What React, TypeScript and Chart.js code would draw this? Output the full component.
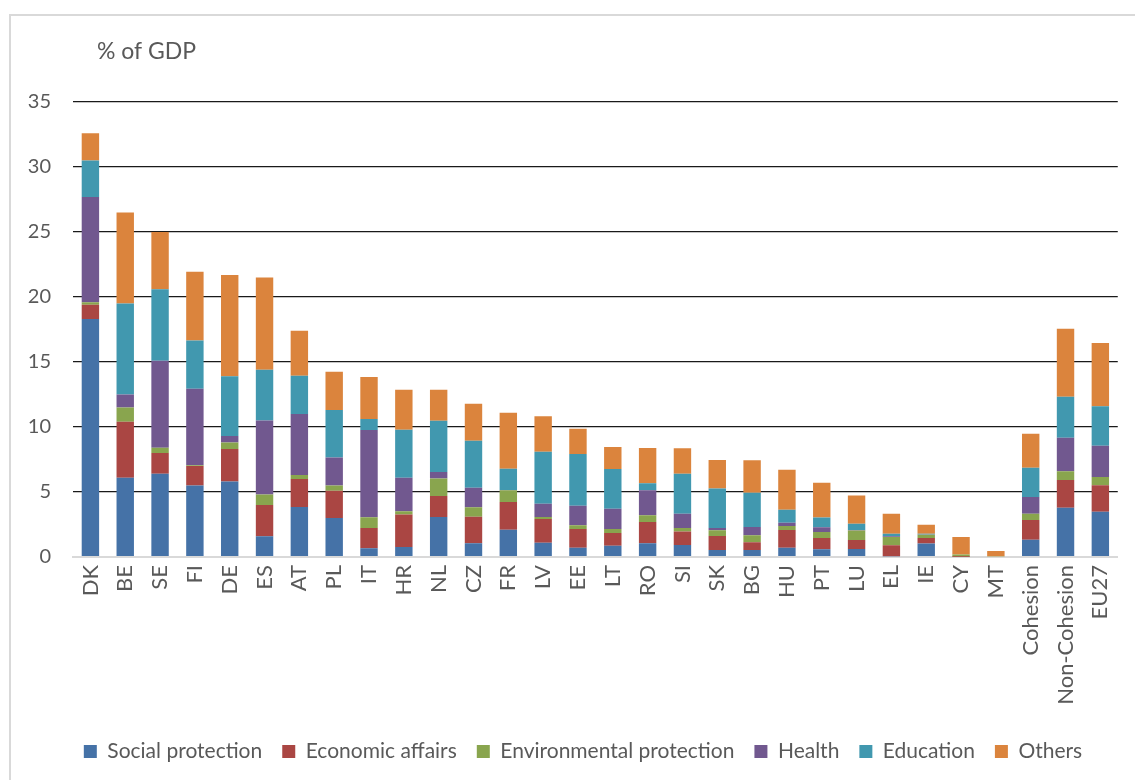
import React, { useEffect, useRef } from "react";
import { Chart, registerables } from "chart.js";

Chart.register(...registerables);

// Government expenditure by function, % of GDP
const categories = [
  "DK", "BE", "SE", "FI", "DE", "ES", "AT", "PL", "IT", "HR",
  "NL", "CZ", "FR", "LV", "EE", "LT", "RO", "SI", "SK", "BG",
  "HU", "PT", "LU", "EL", "IE", "CY", "MT", "Cohesion", "Non-Cohesion", "EU27",
];

const socialProtection = [
  18.3, 6.1, 6.4, 5.5, 5.8, 1.6, 3.85, 3.0, 0.67, 0.77,
  3.08, 1.05, 2.1, 1.1, 0.72, 0.87, 1.05, 0.92, 0.54, 0.54,
  0.72, 0.59, 0.62, 0.05, 1.03, 0, 0, 1.33, 3.79, 3.49,
];
const economicAffairs = [
  1.1, 4.3, 1.6, 1.5, 2.5, 2.4, 2.15, 2.1, 1.56, 2.49,
  1.61, 2.05, 2.13, 1.82, 1.43, 0.98, 1.64, 1.05, 1.08, 0.59,
  1.36, 0.87, 0.69, 0.85, 0.43, 0.02, 0, 1.52, 2.13, 2.02,
];
const environmentalProtection = [
  0.2, 1.1, 0.4, 0.05, 0.5, 0.8, 0.3, 0.4, 0.82, 0.25,
  1.34, 0.72, 0.9, 0.16, 0.29, 0.3, 0.52, 0.26, 0.43, 0.54,
  0.3, 0.46, 0.72, 0.64, 0.26, 0.18, 0.05, 0.48, 0.67, 0.64,
];
const health = [
  8.1, 1.0, 6.7, 5.9, 0.5, 5.7, 4.7, 2.15, 6.72, 2.59,
  0.51, 1.51, 0.02, 1.02, 1.51, 1.57, 1.92, 1.1, 0.18, 0.64,
  0.26, 0.36, 0.05, 0.05, 0.02, 0, 0, 1.29, 2.59, 2.41,
];
const education = [
  2.8, 7.0, 5.5, 3.7, 4.6, 3.9, 2.95, 3.65, 0.85, 3.69,
  3.95, 3.62, 1.64, 4.0, 3.97, 3.05, 0.54, 3.08, 3.03, 2.64,
  1.0, 0.75, 0.48, 0.2, 0.05, 0, 0, 2.25, 3.15, 3.03,
];
const others = [
  2.1, 7.0, 4.4, 5.3, 7.8, 7.1, 3.45, 2.95, 3.23, 3.08,
  2.38, 2.84, 4.31, 2.72, 1.95, 1.69, 2.71, 1.95, 2.2, 2.49,
  3.08, 2.69, 2.18, 1.54, 0.7, 1.34, 0.41, 2.62, 5.23, 4.87,
];

const seriesNames = [
  "Social protection",
  "Economic affairs",
  "Environmental protection",
  "Health",
  "Education",
  "Others",
];
const seriesColors = ["#4572A7", "#AA4643", "#89A54E", "#71588F", "#4198AF", "#DB843D"];

const FONT = "Lato, 'Open Sans', sans-serif";
const TEXT = "#595959";

// Unit label above the value axis
const unitLabel = {
  id: "unitLabel",
  afterDraw(chart: Chart) {
    const { ctx, chartArea } = chart;
    ctx.save();
    ctx.font = `23px ${FONT}`;
    ctx.fillStyle = TEXT;
    ctx.textAlign = "left";
    ctx.textBaseline = "middle";
    ctx.fillText("% of GDP", chartArea.left + 24, chartArea.top - 50);
    ctx.restore();
  },
};

// Centre the legend row under the plot area rather than the whole canvas
const legendOffset = {
  id: "legendOffset",
  afterLayout(chart: any) {
    const legend = chart.legend;
    if (!legend) return;
    const shift = 23;
    legend.left += shift;
    legend.right += shift;
  },
};

export default function App() {
  const canvasRef = useRef<HTMLCanvasElement | null>(null);

  useEffect(() => {
    document.body.style.margin = "0";
    const canvas = canvasRef.current;
    if (!canvas) return;
    const values = [
      socialProtection,
      economicAffairs,
      environmentalProtection,
      health,
      education,
      others,
    ];
    const chart = new Chart(canvas, {
      type: "bar",
      data: {
        labels: categories,
        datasets: values.map((data, i) => ({
          label: seriesNames[i],
          data,
          backgroundColor: seriesColors[i],
          borderWidth: 0,
          barPercentage: 0.5,
          categoryPercentage: 1,
        })),
      },
      options: {
        animation: false,
        responsive: false,
        maintainAspectRatio: false,
        layout: { padding: { left: 0, right: 15, top: 102, bottom: 8 } },
        plugins: {
          tooltip: { enabled: false },
          legend: {
            position: "bottom",
            labels: {
              boxWidth: 13,
              boxHeight: 13,
              padding: 20,
              color: TEXT,
              font: { family: FONT, size: 21 },
            },
          },
        },
        scales: {
          x: {
            stacked: true,
            grid: { display: false, drawTicks: false },
            border: { display: true, color: "#d9d9d9", width: 2 },
            ticks: {
              color: TEXT,
              font: { family: FONT, size: 22 },
              minRotation: 90,
              maxRotation: 90,
              autoSkip: false,
              padding: 8,
            },
            afterFit(scale: any) {
              scale.height = 164;
            },
          },
          y: {
            stacked: true,
            min: 0,
            max: 35,
            grid: {
              drawTicks: false,
              color: (ctx: any) => (ctx.tick && ctx.tick.value === 0 ? "#d9d9d9" : "#1a1a1a"),
              lineWidth: (ctx: any) => (ctx.tick && ctx.tick.value === 0 ? 2 : 1.3),
            },
            border: { display: false },
            ticks: {
              stepSize: 5,
              color: TEXT,
              font: { family: FONT, size: 20 },
              padding: 22,
            },
            afterFit(scale: any) {
              scale.width = 73;
            },
          },
        },
      },
      plugins: [unitLabel, legendOffset],
    });
    return () => chart.destroy();
  }, []);

  return (
    <div style={{ position: "relative", width: 1135, height: 780, overflow: "hidden", background: "#fff" }}>
      <div
        style={{
          position: "absolute",
          left: 9,
          top: 14,
          width: 1200,
          height: 800,
          borderLeft: "2px solid #d9d9d9",
          borderTop: "2px solid #d9d9d9",
        }}
      />
      <canvas
        ref={canvasRef}
        width={1135}
        height={780}
        style={{ position: "absolute", left: 0, top: 0, width: 1135, height: 780 }}
      />
    </div>
  );
}
